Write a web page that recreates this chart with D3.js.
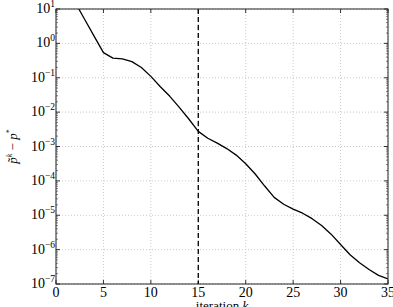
<!DOCTYPE html>
<html><head><meta charset="utf-8">
<script src="https://cdn.jsdelivr.net/npm/d3@7/dist/d3.min.js"></script>
<style>body{margin:0;background:#fff}svg{display:block}</style>
</head><body><svg id="c" width="393" height="307"></svg>
<script>
const iterations = [0,1,2,3,4,5,6,7,8,9,10,11,12,13,14,15,16,17,18,19,20,21,22,23,24,25,26,27,28,29,30,31,32,33,34,35];
const logGap = [2.2,1.7,1.2,0.71,0.22,-0.27,-0.43,-0.45,-0.53,-0.70,-0.96,-1.26,-1.54,-1.86,-2.2,-2.56,-2.76,-2.90,-3.06,-3.25,-3.5,-3.8,-4.15,-4.48,-4.68,-4.82,-4.94,-5.1,-5.3,-5.55,-5.85,-6.15,-6.38,-6.58,-6.75,-6.85];
const gapValues = logGap.map(v => Math.pow(10, v));
const xTicks = [0,5,10,15,20,25,30,35];
const yExponents = [1,0,-1,-2,-3,-4,-5,-6,-7];
const markerIter = 15;
const FONT = "Liberation Serif";

const m = {l:56, r:388, t:9, b:284};
const svg = d3.select("#c");
const x = d3.scaleLinear().domain([0,35]).range([m.l, m.r]);
const y = d3.scaleLog().domain([1e-7, 1e1]).range([m.b, m.t]);

// grid
const g = svg.append("g");
xTicks.forEach(t => g.append("line").attr("x1", x(t)).attr("x2", x(t)).attr("y1", m.t).attr("y2", m.b)
  .attr("stroke", "#bbb").attr("stroke-width", 0.8).attr("stroke-dasharray", "1,2"));
yExponents.forEach(e => g.append("line").attr("x1", m.l).attr("x2", m.r).attr("y1", y(Math.pow(10,e))).attr("y2", y(Math.pow(10,e)))
  .attr("stroke", "#bbb").attr("stroke-width", 0.8).attr("stroke-dasharray", "1,2"));

// minor ticks on log axis (left & right)
const minors = [];
for (let e = -7; e < 1; e++) for (let k = 2; k <= 9; k++) minors.push(k * Math.pow(10, e));
minors.forEach(v => {
  svg.append("line").attr("x1", m.l).attr("x2", m.l + 2).attr("y1", y(v)).attr("y2", y(v)).attr("stroke", "#333").attr("stroke-width", 0.6);
  svg.append("line").attr("x1", m.r).attr("x2", m.r - 2).attr("y1", y(v)).attr("y2", y(v)).attr("stroke", "#333").attr("stroke-width", 0.6);
});
// major ticks
yExponents.forEach(e => {
  const yy = y(Math.pow(10,e));
  svg.append("line").attr("x1", m.l).attr("x2", m.l + 4).attr("y1", yy).attr("y2", yy).attr("stroke", "#333");
  svg.append("line").attr("x1", m.r).attr("x2", m.r - 4).attr("y1", yy).attr("y2", yy).attr("stroke", "#333");
  const t = svg.append("text").attr("font-family", FONT).attr("x", m.l - 1).attr("y", yy + 4).attr("text-anchor", "end").attr("font-size", 14);
  t.append("tspan").text("10");
  t.append("tspan").attr("dy", -6).attr("font-size", 9.5).text(e < 0 ? "\u2212" + (-e) : String(e));
});
xTicks.forEach(t => {
  svg.append("line").attr("x1", x(t)).attr("x2", x(t)).attr("y1", m.b).attr("y2", m.b - 4).attr("stroke", "#333");
  svg.append("line").attr("x1", x(t)).attr("x2", x(t)).attr("y1", m.t).attr("y2", m.t + 4).attr("stroke", "#333");
  svg.append("text").attr("font-family", FONT).attr("x", x(t)).attr("y", m.b + 13).attr("text-anchor", "middle").attr("font-size", 14).text(t);
});

// clip
svg.append("clipPath").attr("id", "clip").append("rect").attr("x", m.l).attr("y", m.t).attr("width", m.r - m.l).attr("height", m.b - m.t);

// dashed marker
svg.append("line").attr("x1", x(markerIter)).attr("x2", x(markerIter)).attr("y1", m.t).attr("y2", m.b)
  .attr("stroke", "#000").attr("stroke-width", 1.3).attr("stroke-dasharray", "5,3");

// line
const line = d3.line().x((d,i) => x(iterations[i])).y(d => y(d));
svg.append("path").datum(gapValues).attr("d", line).attr("fill", "none").attr("stroke", "#000").attr("stroke-width", 1.3).attr("stroke-linejoin", "round").attr("clip-path", "url(#clip)");

// frame
svg.append("rect").attr("x", m.l).attr("y", m.t).attr("width", m.r - m.l).attr("height", m.b - m.t).attr("fill", "none").attr("stroke", "#222").attr("stroke-width", 1);

// labels
const xl = svg.append("text").attr("font-family", FONT).attr("x", x(17.5)).attr("y", 310).attr("text-anchor", "middle").attr("font-size", 13);
xl.append("tspan").text("iteration ");
xl.append("tspan").attr("font-style", "italic").text("k");

const yl = svg.append("text").attr("font-family", FONT).attr("transform", `translate(17,${(m.t+m.b)/2}) rotate(-90)`).attr("text-anchor", "middle").attr("font-size", 13);
yl.append("tspan").attr("font-style", "italic").text("p\u0303");
yl.append("tspan").attr("dy", -5).attr("font-size", 8).attr("font-style", "italic").text("k");
yl.append("tspan").attr("dy", 5).text(" \u2212 ");
yl.append("tspan").attr("font-style", "italic").text("p");
yl.append("tspan").attr("dy", -5).attr("font-size", 8).text("*");
</script></body></html>
